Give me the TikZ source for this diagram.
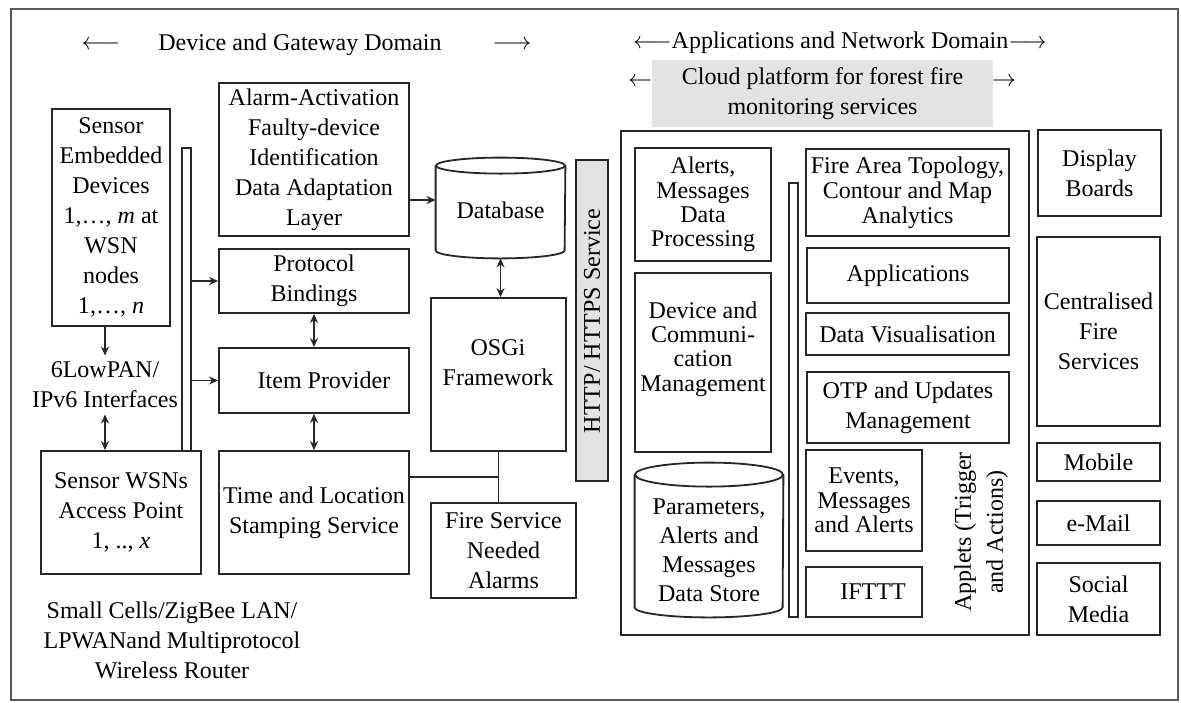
\documentclass[tikz,border=0pt]{standalone}
\usepackage{fontspec}
\setmainfont{Liberation Serif}
\usetikzlibrary{arrows.meta,calc}
\newcommand{\boxnode}[6][]{%
 \pgfmathsetmacro\bxw{(#4-#2)*0.5}%
 \pgfmathsetmacro\bxh{(#5-#3)*0.5}%
 \node[box,text width=\bxw pt,minimum height=\bxh pt,#1] (#6) at ({(#2+#4)/2},{(#3+#5)/2})}
\tikzset{
 box/.style={draw=black!85, line width=0.9pt, inner sep=0pt, align=flush center, fill=white},
 lbl/.style={align=flush center, inner sep=0pt},
 ln/.style={draw=black!85, line width=0.9pt},
 arr/.style={ln, -{Stealth[length=4.5pt,width=4pt]}},
 darr/.style={ln, {Stealth[length=4.5pt,width=4pt]}-{Stealth[length=4.5pt,width=4pt]}},
 tight/.style={font=\fontsize{12pt}{12.2pt}\selectfont},
}
\begin{document}
\begin{tikzpicture}[x=0.5pt,y=-0.5pt,font=\fontsize{12pt}{15pt}\selectfont]
\useasboundingbox (0,0) rectangle (1181,702);
\fill[white] (0,0) rectangle (1181,702);
\draw[line width=1.2pt, black!65] (11,9) rectangle (1178,700);

% headers
\node (dgl) at (101,45) {$\longleftarrow$};
\node (dg) at (300,45) {Device and Gateway Domain};
\node (dgr) at (512,45) {$\longrightarrow$};
\node (and) at (840,43) {$\longleftarrow$Applications and Network Domain$\longrightarrow$};
\node[fill=black!11, minimum width=170.5pt, minimum height=33.5pt, align=flush center, inner sep=0pt] (cloud) at (822.5,93.5) {Cloud platform for forest fire\\monitoring services};
\node (cl) at (640,82) {$\leftarrow$};
\node (cr) at (1004,82) {$\rightarrow$};

% device and gateway domain
\boxnode{52}{109}{170}{326}{emb} {Sensor\\Embedded\\Devices\\1,…, \textit{m} at\\WSN\\nodes\\1,…, \textit{n}};
\node[lbl, inner sep=3pt] (lowpan) at (105,385) {6LowPAN/\\IPv6 Interfaces};
\boxnode{41}{451}{201}{574}{wsn} {Sensor WSNs\\Access Point\\1, .., \textit{x}};
\boxnode{182}{148}{191}{451}{gwbar} {};
\node[lbl] (small) at (172,640) {Small Cells/ZigBee LAN/\\LPWANand Multiprotocol\\Wireless Router};

\boxnode{219}{83}{409}{236}{alarm} {Alarm-Activation\\Faulty-device\\Identification\\Data Adaptation\\Layer};
\boxnode{219}{249}{409}{313}{pb} {Protocol\\Bindings};
\boxnode{219}{348}{409}{413}{ip} {\hspace*{10pt}Item Provider};
\boxnode{219}{451}{409}{574}{tl} {Time and Location\\Stamping Service};

% database cylinder
\node[lbl, minimum width=64.5pt, minimum height=50pt] (db) at (500.5,208) {};
\draw[ln, fill=white] ($(db.north west)+(0,8)$) -- ($(db.south west)+(0,-8)$) arc[start angle=180,end angle=360,x radius=32.25pt,y radius=4pt] -- ($(db.north east)+(0,8)$);
\draw[ln] ($(db.north)+(0,8)$) ellipse [x radius=32.25pt, y radius=4pt];
\node[lbl] (dbt) at ($(db)+(0,2)$) {Database};

\boxnode{431}{298}{566}{451}{osgi} {};
\node[lbl] (osgit) at (498,363) {OSGi\\Framework};
\boxnode{431}{503}{576}{598}{fire} {Fire Service\\Needed\\Alarms};
\boxnode[fill=black!11]{576}{160}{608}{481}{http} {};
\node[lbl, rotate=90] (httpt) at (592,321) {HTTP/ HTTPS Service};

% connectors left
\draw[arr] (emb.south -| lowpan.north) -- (lowpan.north);
\draw[darr] (lowpan.south) -- (lowpan.south |- wsn.north);
\draw[arr] (gwbar.east |- pb.west) -- (pb.west);
\draw[arr] (gwbar.east |- ip.west) -- (ip.west);
\draw[darr] (pb.south) -- (ip.north);
\draw[darr] (ip.south) -- (tl.north);
\coordinate (dbin) at ($(db.west)+(0,-8)$);
\draw[arr] (alarm.east |- dbin) -- (dbin);
\draw[darr] (db.south) -- (db.south |- osgi.north);
\draw[ln] (osgi.south) -- (osgi.south |- fire.north);
\coordinate (jn) at ($(osgi.south)!0.5!(osgi.south |- fire.north)$);
\draw[ln] (tl.east |- jn) -- (jn);

% applications and network domain
\boxnode{621}{131}{1029}{635}{cont} {};
\boxnode[tight]{635}{148}{771}{261}{amdp} {Alerts,\\Messages\\Data\\Processing};
\boxnode{635}{273}{771}{452}{dcm} {};
\node[lbl, tight] (dcmt) at (703,349) {Device and\\Communi-\\cation\\Management};

\node[lbl, minimum width=74pt, minimum height=67pt] (pm) at (709,550) {};
\draw[ln, fill=white] ($(pm.north west)+(0,-8)$) -- ($(pm.south west)+(0,-10)$) arc[start angle=180,end angle=360,x radius=37pt,y radius=5pt] -- ($(pm.north east)+(0,-8)$);
\draw[ln] ($(pm.north)+(0,-8)$) ellipse [x radius=37pt, y radius=6pt];
\node[lbl, font=\fontsize{12pt}{14.5pt}\selectfont] (pmt) at (pm) {Parameters,\\Alerts and\\Messages\\Data Store};

\boxnode{789}{183}{798}{617}{appbar} {};
\boxnode[font=\fontsize{12pt}{12.5pt}\selectfont]{806}{149}{1009}{236}{fat} {\makebox[\linewidth]{Fire Area Topology,}\\Contour and Map\\Analytics};
\boxnode{807}{248}{1009}{303}{apps} {Applications};
\boxnode{806}{313}{1009}{355}{dv} {Data Visualisation};
\boxnode{807}{372}{1009}{443}{otp} {OTP and Updates\\Management};
\boxnode[tight]{806}{450}{922}{551}{ev} {Events,\\Messages\\and Alerts};
\boxnode{806}{567}{922}{617}{ifttt} {\hspace*{9pt}IFTTT};
\node[lbl, rotate=90, font=\fontsize{12pt}{16pt}\selectfont] (applets) at (981,532) {Applets (Trigger\\and Actions)};

\boxnode{1038}{130}{1161}{216}{disp} {Display\\Boards};
\boxnode{1037}{237}{1160}{426}{cfs} {Centralised\\Fire\\Services};
\boxnode{1037}{443}{1160}{481}{mob} {Mobile};
\boxnode{1037}{501}{1160}{545}{email} {e-Mail};
\boxnode{1037}{563}{1160}{635}{sm} {Social\\Media};
\end{tikzpicture}
\end{document}
